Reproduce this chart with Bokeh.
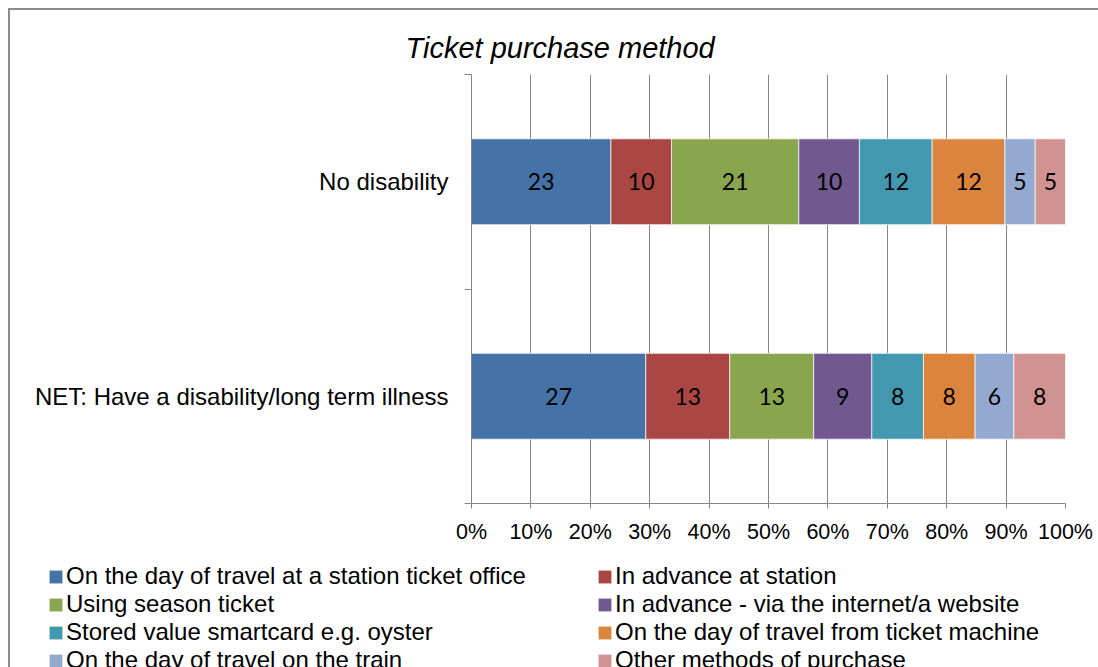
from bokeh.plotting import figure
from bokeh.layouts import column
from bokeh.models import (ColumnDataSource, Range1d, FixedTicker, PrintfTickFormatter,
                          Legend, LegendItem, Title, InlineStyleSheet)
from bokeh.core.properties import value
from bokeh.embed import file_html
from bokeh.resources import INLINE

# ---------------- data ----------------
title_text = "Ticket purchase method"
categories = ["No disability", "NET: Have a disability/long term illness"]
series = [
    "On the day of travel at a station ticket office",
    "In advance at station",
    "Using season ticket",
    "In advance - via the internet/a website",
    "Stored value smartcard e.g. oyster",
    "On the day of travel from ticket machine",
    "On the day of travel on the train",
    "Other methods of purchase",
]
no_disability = [23, 10, 21, 10, 12, 12, 5, 5]
have_disability = [27, 13, 13, 9, 8, 8, 6, 8]
colors = ["#4572A7", "#AA4643", "#89A54E", "#71588F",
          "#4198AF", "#DB843D", "#93A9CF", "#D19392"]
x_ticks = [0, 10, 20, 30, 40, 50, 60, 70, 80, 90, 100]

# ---------------- derived ----------------
values_by_cat = [no_disability, have_disability]
n = len(categories)
ypos = [n - i - 0.5 for i in range(n)]
keys = [f"s{j}" for j in range(len(series))]

data = {"y": ypos}
for j, k in enumerate(keys):
    data[k] = [vals[j] / sum(vals) * 100 for vals in values_by_cat]
source = ColumnDataSource(data)

lx, ly, lt = [], [], []
for i, vals in enumerate(values_by_cat):
    tot = sum(vals)
    cum = 0.0
    for v in vals:
        share = v / tot * 100
        lx.append(cum + share / 2)
        ly.append(ypos[i])
        lt.append(str(v))
        cum += share
label_source = ColumnDataSource(dict(x=lx, y=ly, text=lt))

GRAY = "#868686"
FONT = "Liberation Sans"
W = 1098
TOP_H = 548
LEG_H = 667 - TOP_H


def border_sheet(top_px):
    top_rule = "border-top: 2px solid #8c8c8c;" if top_px is not None else ""
    return InlineStyleSheet(css=f"""
:host {{ position: relative; }}
:host::after {{
  content: ''; position: absolute; left: 8px; top: {top_px or 0}px; right: 0; bottom: 0;
  border-left: 2px solid #8c8c8c; {top_rule}
  pointer-events: none;
}}
""")


p = figure(width=W, height=TOP_H, output_backend="svg", toolbar_location=None,
           x_range=Range1d(0, 100), y_range=Range1d(0, n),
           min_border_left=471, min_border_right=33,
           min_border_top=74, min_border_bottom=TOP_H - 503,
           stylesheets=[border_sheet(8)])
p.outline_line_color = None
p.background_fill_color = "white"
p.border_fill_color = "white"

renderers = p.hbar_stack(keys, y="y", height=0.4, color=colors, source=source,
                         line_color="white", line_width=1, line_alpha=0.7)

p.text(x="x", y="y", text="text", source=label_source,
       text_align="center", text_baseline="middle",
       text_font=value("Lato"), text_font_size="23px", text_color="black")

# x axis
p.xaxis.ticker = FixedTicker(ticks=x_ticks)
p.xaxis.formatter = PrintfTickFormatter(format="%d%%")
p.xaxis.axis_line_color = GRAY
p.xaxis.major_tick_line_color = GRAY
p.xaxis.major_tick_out = 5
p.xaxis.major_tick_in = 0
p.xaxis.minor_tick_line_color = None
p.xaxis.major_label_text_font = FONT
p.xaxis.major_label_text_font_size = "21.5px"
p.xaxis.major_label_text_color = "black"
p.xaxis.major_label_standoff = 11

# y axis
p.yaxis.ticker = FixedTicker(ticks=ypos, minor_ticks=list(range(n + 1)))
p.yaxis.major_label_overrides = {ypos[i]: categories[i] for i in range(n)}
p.yaxis.axis_line_color = GRAY
p.yaxis.major_tick_line_color = None
p.yaxis.major_tick_out = 0
p.yaxis.major_tick_in = 0
p.yaxis.minor_tick_line_color = GRAY
p.yaxis.minor_tick_out = 7
p.yaxis.minor_tick_in = 0
p.yaxis.major_label_text_font = FONT
p.yaxis.major_label_text_font_size = "24px"
p.yaxis.major_label_text_color = "black"
p.yaxis.major_label_standoff = 16

# grid
p.xgrid.ticker = FixedTicker(ticks=x_ticks)
p.xgrid.grid_line_color = GRAY
p.xgrid.grid_line_width = 1
p.ygrid.grid_line_color = None

# title
p.title = Title(text=title_text, align="left", offset=-66,
                text_font=FONT, text_font_style="italic", text_font_size="29px",
                text_color="black", standoff=21)

# ---------------- legend panel ----------------
pl = figure(width=W, height=LEG_H, output_backend="svg", toolbar_location=None,
            x_range=Range1d(0, 100), y_range=Range1d(n + 10, n + 11),
            x_axis_location=None, y_axis_location=None,
            min_border=0, stylesheets=[border_sheet(None)])
try:
    pl.frame_align = False
except Exception:
    pass
pl.outline_line_color = None
pl.grid.grid_line_color = None
pl.border_fill_color = "white"
pl.background_fill_color = "white"

# same stacked bars, kept outside this panel's visible range: only their legend swatches show
leg_renderers = pl.hbar_stack(keys, y="y", height=0.4, color=colors, source=source,
                              line_color="white", line_width=1, line_alpha=0.7)

items = [LegendItem(label=series[j], renderers=[leg_renderers[j]]) for j in range(len(series))]
legend = Legend(items=items, location=(47, -7), orientation="horizontal", ncols=2,
                padding=0, margin=0, spacing=-1, border_line_color=None,
                background_fill_alpha=0, glyph_width=17, glyph_height=17,
                label_width=530, label_height=27, label_standoff=2,
                label_text_font=FONT, label_text_font_size="24px",
                label_text_color="black")
pl.add_layout(legend, "center")

layout = column(p, pl, spacing=0)
open("out.html", "w").write(file_html(layout, INLINE))
